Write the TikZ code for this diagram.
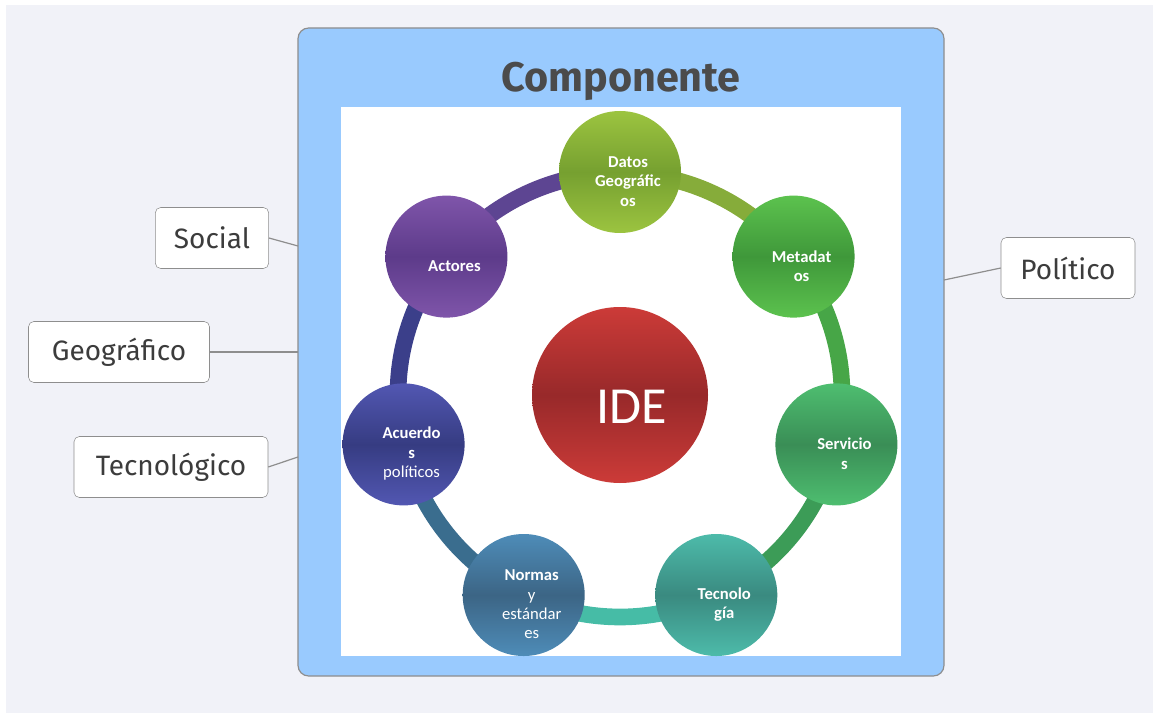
\documentclass[tikz,border=0pt]{standalone}
\usepackage{fontspec}
\setmainfont{Fira Sans}
\newfontfamily\calibri{Carlito}
\usetikzlibrary{shadings}

\definecolor{bggray}{HTML}{F1F2F8}
\definecolor{boxblue}{HTML}{99CAFE}
\definecolor{linegray}{HTML}{8E8E8E}
\definecolor{labelgray}{HTML}{3C3C3C}
\definecolor{titlegray}{HTML}{4B4B4B}
\definecolor{segA}{HTML}{86AC3A}
\definecolor{segB}{HTML}{47A647}
\definecolor{segC}{HTML}{3C9C57}
\definecolor{segD}{HTML}{46BCA6}
\definecolor{segE}{HTML}{3A6D8E}
\definecolor{segF}{HTML}{3B3F8A}
\definecolor{segG}{HTML}{5D4592}
\definecolor{datosL}{HTML}{9CC440}
\definecolor{datosD}{HTML}{76A030}
\definecolor{metaL}{HTML}{5CC24E}
\definecolor{metaD}{HTML}{3F983A}
\definecolor{servL}{HTML}{4EBE70}
\definecolor{servD}{HTML}{3A8E56}
\definecolor{tecnoL}{HTML}{4DBBAA}
\definecolor{tecnoD}{HTML}{3A8A80}
\definecolor{normL}{HTML}{4E8CB8}
\definecolor{normD}{HTML}{3C6585}
\definecolor{acuL}{HTML}{5257B2}
\definecolor{acuD}{HTML}{363C82}
\definecolor{actL}{HTML}{7F55AA}
\definecolor{actD}{HTML}{5D3B8A}
\definecolor{ideL}{HTML}{CC3B38}
\definecolor{ideD}{HTML}{98292A}

\begin{document}
\begin{tikzpicture}[x=0.75pt,y=-0.75pt,
	sidebox/.style={draw=linegray, fill=white, rounded corners=4pt, minimum height=45.75pt, inner sep=0pt, text=labelgray, font=\fontsize{21}{25}\selectfont},
	ball/.style={circle, minimum size=91.5pt, inner sep=0pt},
	balltext/.style={text=white, align=center, xshift=6pt, yshift=-7pt, font=\calibri\fontsize{12.5}{14.5}\selectfont},
	shade3/.style 2 args={top color=#1, bottom color=#1, middle color=#2},
	link/.style={draw=linegray, line width=0.9pt}]
	\useasboundingbox (0,0) rectangle (1153,713);
	\fill[bggray] (6,5) rectangle (1153,713);
	\node[draw=linegray, fill=boxblue, rounded corners=8pt, minimum width=484.5pt, minimum height=486pt, line width=0.9pt] (comp) at (621,352) {};
	\node[font=\bfseries\fontsize{31}{36}\selectfont, text=titlegray] (title) at (621,81) {Componente};
	\fill[white] (341,107) rectangle (901,656);
	\begin{scope}[shift={(620,395)}, y=0.75pt]
		\foreach \a/\b/\c in {90/38.57/segA, 38.57/-12.86/segB, -12.86/-64.29/segC, -64.29/-115.71/segD, -115.71/-167.14/segE, -167.14/-218.57/segF, -218.57/-270/segG}
			\draw[line width=12.5pt, \c] (\a:222) arc[start angle=\a, end angle=\b, radius=222];
		\node[ball, shade3={datosL}{datosD}, label={[balltext]center:{\textbf{Datos}\\\textbf{Geográfic}\\\textbf{os}}}] (datos) at (90:223) {};
		\node[ball, shade3={metaL}{metaD}, label={[balltext]center:{\textbf{Metadat}\\\textbf{os}}}] (meta) at (38.57:222) {};
		\node[ball, shade3={servL}{servD}, label={[balltext]center:{\textbf{Servicio}\\\textbf{s}}}] (serv) at (-12.86:222) {};
		\node[ball, shade3={tecnoL}{tecnoD}, label={[balltext]center:{\textbf{Tecnolo}\\\textbf{gía}}}] (tecno) at (-64.29:222) {};
		\node[ball, shade3={normL}{normD}, label={[balltext]center:{\textbf{Normas}\\y\\estándar\\es}}] (normas) at (-115.71:222) {};
		\node[ball, shade3={acuL}{acuD}, label={[balltext]center:{\textbf{Acuerdo}\\\textbf{s}\\políticos}}] (acuerdos) at (-167.14:222) {};
		\node[ball, shade3={actL}{actD}, label={[balltext]center:{\textbf{Actores}}}] (actores) at (141.43:222) {};
		\node[circle, minimum size=132pt, inner sep=0pt, shade3={ideL}{ideD}, label={[text=white, xshift=9pt, yshift=-9pt, font=\calibri\fontsize{39}{44}\selectfont]center:IDE}] (ide) at (0,0) {};
	\end{scope}
	\node[sidebox, minimum width=85pt] (social) at (212,238) {Social};
	\node[sidebox, minimum width=135.75pt] (geo) at (119,352) {Geográfico};
	\node[sidebox, minimum width=145.5pt] (tecnol) at (171,467) {Tecnológico};
	\node[sidebox, minimum width=100.5pt] (politico) at (1068,268) {Político};
	\coordinate (socialEnd) at (298,246);
	\coordinate (geoEnd) at (298,352);
	\coordinate (tecnolEnd) at (298,457);
	\coordinate (politicoEnd) at (944,280);
	\draw[link] (social.east) -- (socialEnd);
	\draw[link] (geo.east) -- (geoEnd);
	\draw[link] (tecnol.east) -- (tecnolEnd);
	\draw[link] (politico.west) -- (politicoEnd);
\end{tikzpicture}
\end{document}
